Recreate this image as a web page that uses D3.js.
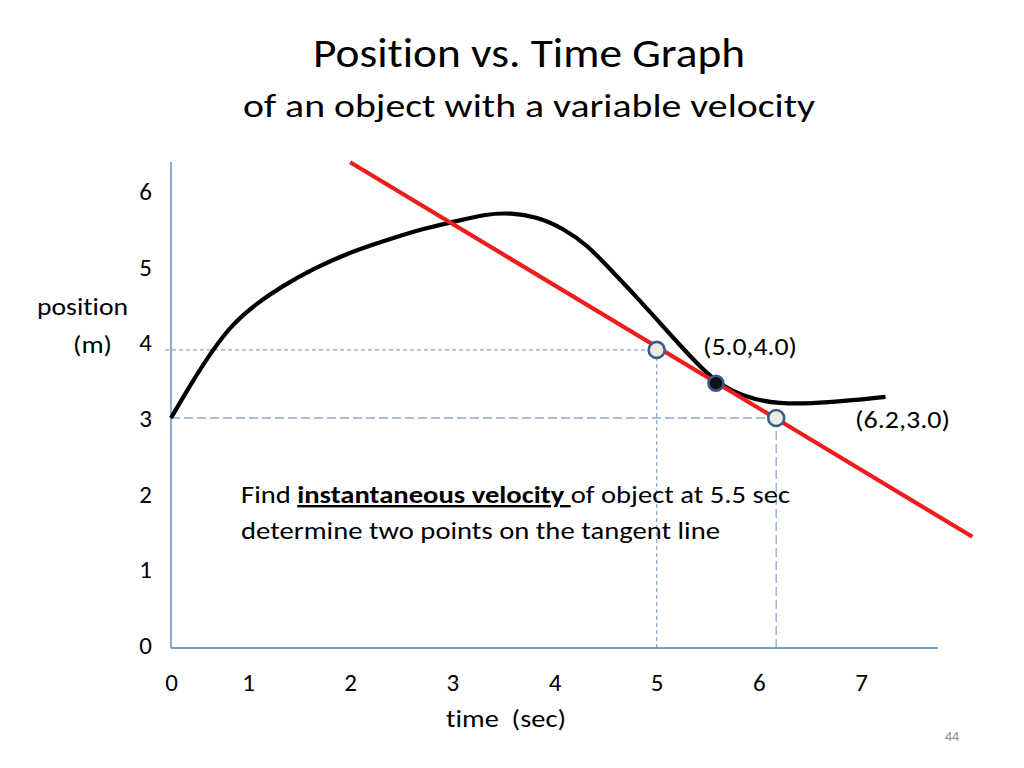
<!DOCTYPE html>
<html><head><meta charset="utf-8">
<script src="https://cdn.jsdelivr.net/npm/d3@7"></script>
<style>
html,body{margin:0;padding:0;background:#fff;}
svg text{font-family:Carlito, Calibri, Lato, "Open Sans", sans-serif;fill:#000;font-variant-ligatures:none;font-feature-settings:"liga" 0, "clig" 0;}
</style></head>
<body>
<svg id="chart" width="1024" height="768"></svg>
<script>
// ---- data ----
const xTicks = [0,1,2,3,4,5,6,7];
const yTicks = [0,1,2,3,4,5,6];
const curveX = [0,0.269,0.549,0.788,1.069,1.33,1.65,1.98,2.31,2.73,3.01,3.34,3.57,3.83,4.08,4.32,4.57,4.81,5.03,5.23,5.36,5.59,5.85,6.18,6.67,7.24];
const curveY = [3.0,3.47,3.91,4.23,4.50,4.74,4.98,5.18,5.33,5.51,5.59,5.70,5.71,5.66,5.51,5.29,4.93,4.59,4.26,3.96,3.77,3.46,3.28,3.18,3.20,3.28];
const tangentX = [2.0,8.09];
const tangentY = [6.38,1.43];
const pointX = [5.0,6.17];
const pointY = [3.9,3.0];
const touchX = [5.58];
const touchY = [3.46];
const pointLabels = ["(5.0,4.0)","(6.2,3.0)"];

const svg = d3.select("#chart");
const x = d3.scaleLinear().domain([0,1,7]).range([171,248,861]);
const y = d3.scaleLinear().domain([0,6]).range([645,191]);
const y0 = 648;
const FONT = "Carlito, Calibri, Lato, sans-serif";

// dashed guide lines
const g = svg.append("g");
g.append("line").attr("x1",165).attr("x2",x(pointX[0])).attr("y1",y(pointY[0])).attr("y2",y(pointY[0]))
 .attr("stroke","#8fa8cc").attr("stroke-width",1.3).attr("stroke-dasharray","4,3");
g.append("line").attr("x1",x(pointX[0])).attr("x2",x(pointX[0])).attr("y1",y(pointY[0])).attr("y2",y0)
 .attr("stroke","#8fa8cc").attr("stroke-width",1.3).attr("stroke-dasharray","4,3");
g.append("line").attr("x1",x(0)).attr("x2",x(pointX[1])).attr("y1",y(pointY[1])).attr("y2",y(pointY[1]))
 .attr("stroke","#8fa8cc").attr("stroke-width",1.3).attr("stroke-dasharray","9,4");
g.append("line").attr("x1",x(pointX[1])).attr("x2",x(pointX[1])).attr("y1",y(pointY[1])).attr("y2",y0)
 .attr("stroke","#8fa8cc").attr("stroke-width",1.3).attr("stroke-dasharray","9,4");

// axes
const xAxis = d3.axisBottom(x).tickValues(xTicks).tickSize(0).tickFormat(d3.format("d"));
const ax = svg.append("g").attr("transform",`translate(0,${y0})`).call(xAxis);
ax.select(".domain").attr("d","M171,0H938").attr("stroke","#4f7bbd").attr("stroke-width",1.3);
ax.selectAll("text").attr("font-size",25).attr("dy",null).attr("y",43)
  .style("font-family",FONT);

const yAxis = d3.axisLeft(y).tickValues(yTicks).tickSize(0).tickFormat(d3.format("d"));
const ay = svg.append("g").attr("transform","translate(171,0)").call(yAxis);
ay.select(".domain").attr("d","M0,162V648").attr("stroke","#4f7bbd").attr("stroke-width",1.3);
ay.selectAll("text").attr("font-size",25).attr("x",-19).attr("dy","0.34em")
  .style("font-family",FONT);

// curve
const curveData = curveX.map((v,i)=>[v,curveY[i]]);
svg.append("path").datum(curveData)
  .attr("d",d3.line().x(d=>x(d[0])).y(d=>y(d[1])).curve(d3.curveBasis))
  .attr("fill","none").attr("stroke","#000").attr("stroke-width",4.2);

// tangent
const tanData = tangentX.map((v,i)=>[v,tangentY[i]]);
svg.append("path").datum(tanData)
  .attr("d",d3.line().x(d=>x(d[0])).y(d=>y(d[1])))
  .attr("fill","none").attr("stroke","#ee1c1c").attr("stroke-width",4.2);

// touch point
svg.selectAll(".touch").data(touchX.map((v,i)=>[v,touchY[i]])).enter().append("circle")
  .attr("cx",d=>x(d[0])).attr("cy",d=>y(d[1])).attr("r",7.5)
  .attr("fill","#111").attr("stroke","#3a5a88").attr("stroke-width",2.5);

// points
svg.selectAll(".pt").data(pointX.map((v,i)=>[v,pointY[i]])).enter().append("circle")
  .attr("cx",d=>x(d[0])).attr("cy",d=>y(d[1])).attr("r",8)
  .attr("fill","#eeece1").attr("stroke","#3d5d8c").attr("stroke-width",2.6);

// text helper
function txt(s,xx,yy,size,opts={}){
  const t = svg.append("text").attr("x",xx).attr("y",yy).attr("font-size",size).text(s);
  if(opts.anchor) t.attr("text-anchor",opts.anchor);
  if(opts.len) t.attr("textLength",opts.len).attr("lengthAdjust","spacingAndGlyphs");
  if(opts.fill) t.style("fill",opts.fill);
  return t;
}
txt("Position vs. Time Graph",313,67,42,{len:432});
txt("of an object with a variable velocity",243,117,32,{len:572});
txt("position",37,315,24,{len:91});
txt("(m)",73,353,24,{len:39});
txt("time\u00a0 (sec)",446,727,24,{len:120});
txt(pointLabels[0],703,355,24,{len:94});
txt(pointLabels[1],855,428,24,{len:95});
txt("44",945,741,14,{fill:"#8c8c8c"});

// annotation
const a1 = svg.append("text").attr("x",241).attr("y",503).attr("font-size",24)
  .attr("textLength",549).attr("lengthAdjust","spacingAndGlyphs");
a1.append("tspan").text("Find ");
a1.append("tspan").attr("font-weight","bold").attr("text-decoration","underline").text("instantaneous velocity\u00a0");
a1.append("tspan").text("of object at 5.5 sec");
txt("determine two points on the tangent line",241,539,24,{len:479});
</script>
</body></html>
